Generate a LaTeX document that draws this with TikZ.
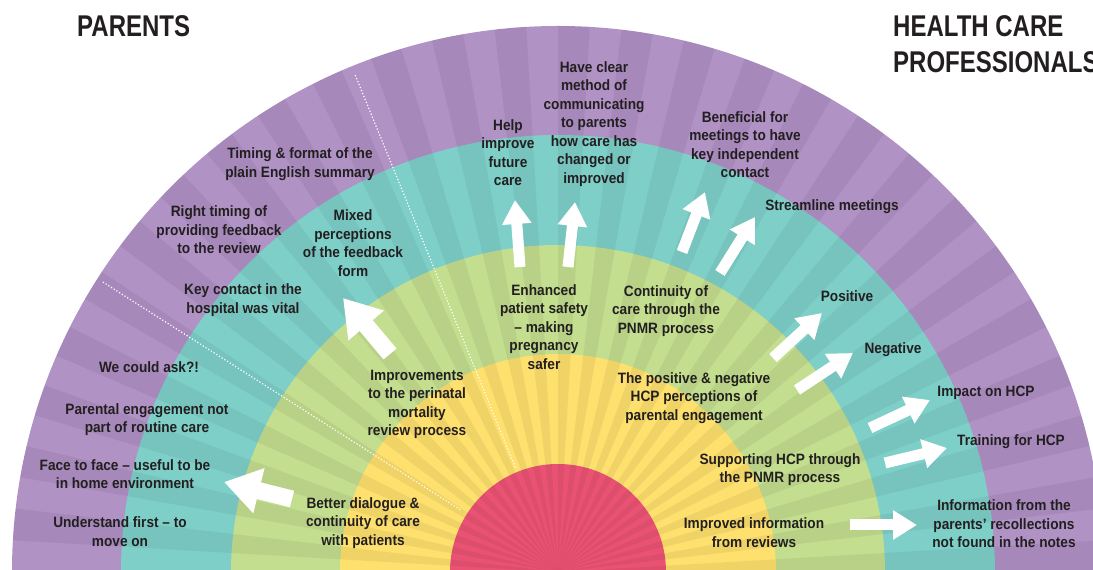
\documentclass[tikz,border=0pt]{standalone}
\usepackage{fontspec}
\setmainfont{Liberation Sans}[FakeStretch=0.8]
\newfontfamily\bodyfont{Liberation Sans}[FakeStretch=0.91,Ligatures=TeX]
\usetikzlibrary{arrows.meta}
\definecolor{cpurple}{RGB}{176,146,197}
\definecolor{cteal}{RGB}{126,207,200}
\definecolor{cgreen}{RGB}{195,222,142}
\definecolor{cyellow}{RGB}{253,224,110}
\definecolor{cpink}{RGB}{234,82,115}
\definecolor{ctext}{RGB}{35,31,32}
\tikzset{
  lbl/.style={font=\bodyfont\bfseries\fontsize{15}{18.5}\selectfont, align=center, text=ctext, inner sep=0pt},
  ttl/.style={font=\bfseries\fontsize{30}{36}\selectfont, align=left, text=ctext, inner sep=0pt, anchor=north west},
  bigarr/.style={draw=white, line width=17pt, -{Triangle[length=36pt,width=44pt]}},
  smallarr/.style={draw=white, line width=11pt, -{Triangle[length=24pt,width=28pt]}},
  sep/.style={draw=white, dotted, line width=1.2pt},
}
\begin{document}
\begin{tikzpicture}[x=1pt,y=1pt]
\useasboundingbox (0,0) rectangle (1093,570);
\begin{scope}
\clip (0,0) rectangle (1093,570);
\coordinate (O) at (558,-2);
\fill[cpurple] (O) circle[radius=546];
\fill[cteal] (O) circle[radius=437];
\fill[cgreen] (O) circle[radius=327];
\fill[cyellow] (O) circle[radius=218];
\fill[cpink] (O) circle[radius=108];
\begin{scope}
\clip (O) circle[radius=546];
\foreach \i in {0,2,...,106}{
  \fill[black,opacity=0.055] (O) -- ++(\i*10/3:600) arc[start angle=\i*10/3, end angle=\i*10/3+10/3, radius=600] -- cycle;
}
\end{scope}
\end{scope}
% dotted separators
\coordinate (d1a) at ([shift={(112.2:113)}]558,-2);
\coordinate (d1b) at ([shift={(112.2:537)}]558,-2);
\coordinate (d2a) at ([shift={(147.5:116)}]558,-2);
\coordinate (d2b) at ([shift={(147.5:540)}]558,-2);
\draw[sep] (d1a) -- (d1b);
\draw[sep] (d2a) -- (d2b);
% titles
\node[ttl] (parents) at (77,555) {PARENTS};
\node[ttl] (hcp) at (893,555) {HEALTH CARE\\PROFESSIONALS};
% labels
\node[lbl] (t1) at (300,406) {Timing \& format of the\\plain English summary};
\node[lbl] (t2) at (219,340) {Right timing of\\providing feedback\\to the review};
\node[lbl] (t3) at (353,327) {Mixed\\perceptions\\of the feedback\\form};
\node[lbl] (t4) at (243,270) {Key contact in the\\hospital was vital};
\node[lbl] (t5) at (149,203) {We could ask?!};
\node[lbl] (t6) at (147,150.5) {Parental engagement not\\part of routine care};
\node[lbl] (t7) at (125,96) {Face to face – useful to be\\in home environment};
\node[lbl] (t8) at (120,38.5) {Understand first – to\\move on};
\node[lbl] (t9) at (363,47) {Better dialogue \&\\continuity of care\\with patients};
\node[lbl] (t10) at (417,165.5) {Improvements\\to the perinatal\\mortality\\review process};
\node[lbl] (t11) at (508,417.5) {Help\\improve\\future\\care};
\node[lbl] (t12) at (594,446) {Have clear\\method of\\communicating\\to parents\\how care has\\changed or\\improved};
\node[lbl] (t13) at (544,243) {Enhanced\\patient safety\\– making\\pregnancy\\safer};
\node[lbl] (t14) at (666,259) {Continuity of\\care through the\\PNMR process};
\node[lbl] (t15) at (694,172) {The positive \& negative\\HCP perceptions of\\parental engagement};
\node[lbl] (t16) at (780,100.5) {Supporting HCP through\\the PNMR process};
\node[lbl] (t17) at (754,37.5) {Improved information\\from reviews};
\node[lbl] (t18) at (745,425.5) {Beneficial for\\meetings to have\\key independent\\contact};
\node[lbl] (t19) at (832,363) {Streamline meetings};
\node[lbl] (t20) at (847,274) {Positive};
\node[lbl] (t21) at (893,220) {Negative};
\node[lbl] (t22) at (986,177) {Impact on HCP};
\node[lbl] (t23) at (1011,128) {Training for HCP};
\node[lbl] (t24) at (1004,46) {Information from the\\parents' recollections\\not found in the notes};
% arrows
\coordinate (a1s) at (390,216); \coordinate (a1e) at (343,272);
\coordinate (a2s) at (292,71);  \coordinate (a2e) at (224,88);
\coordinate (a3s) at (520,303); \coordinate (a3e) at (515,370);
\coordinate (a4s) at (568,303); \coordinate (a4e) at (575,368);
\coordinate (a5s) at (682,318); \coordinate (a5e) at (705,378);
\coordinate (a6s) at (720,297); \coordinate (a6e) at (755,353);
\coordinate (a7s) at (773,212); \coordinate (a7e) at (822,257);
\coordinate (a8s) at (797,180); \coordinate (a8e) at (853,217);
\coordinate (a9s) at (870,142); \coordinate (a9e) at (930,170);
\coordinate (a10s) at (885,107); \coordinate (a10e) at (947,122);
\coordinate (a11s) at (850,45); \coordinate (a11e) at (917,45);
\draw[bigarr] (a1s) -- (a1e);
\draw[bigarr] (a2s) -- (a2e);
\foreach \k in {3,...,11}{\draw[smallarr] (a\k s) -- (a\k e);}
\end{tikzpicture}
\end{document}
